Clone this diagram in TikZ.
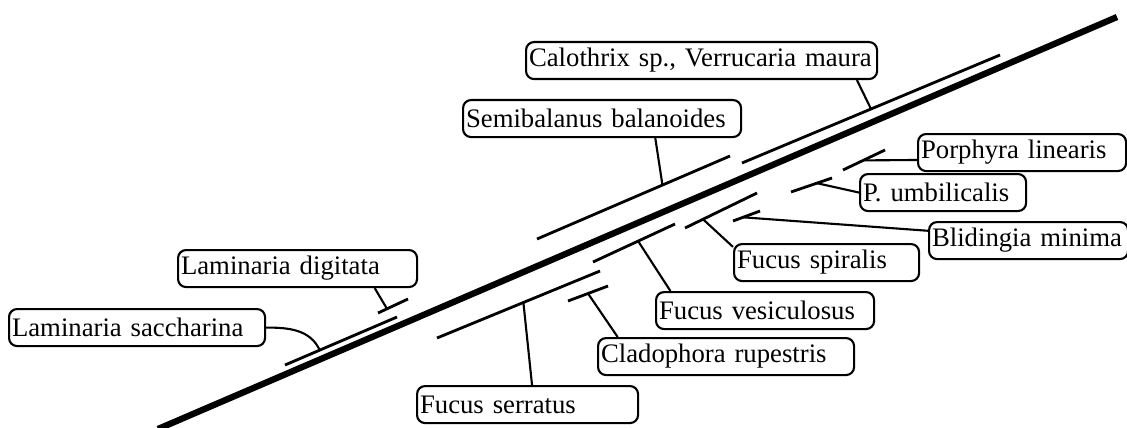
\documentclass[tikz,border=0pt]{standalone}
\usepackage{fontspec}
\setmainfont{Liberation Serif}
\usetikzlibrary{calc, positioning}

\begin{document}
\begin{tikzpicture}[
    tag/.style={draw, rounded corners=0.08cm, line width=0.6pt, inner xsep=0.03cm, inner ysep=0pt,
                minimum height=0.37cm, align=left, anchor=north west,
                font=\fontsize{7.6}{9}\selectfont, text width=#1},
    zone/.style={line width=0.8pt},
    lead/.style={line width=0.6pt}
]

    \useasboundingbox (0,0) rectangle (11.27,4.27);

    % =================================================================
    % 1. MAIN SHORE LINE
    % =================================================================
    \coordinate (Low) at (1.58,-0.02);
    \coordinate (High) at (11.17,4.10);
    \draw[line width=1.8pt] (Low) -- (High);

    % =================================================================
    % 2. END POINTS OF THE ZONES
    % =================================================================
    % Above the shore line
    \coordinate (sa1) at (2.85,0.62);  \coordinate (sa2) at (3.97,1.10);
    \coordinate (dg1) at (3.78,1.14);  \coordinate (dg2) at (4.08,1.28);
    \coordinate (se1) at (5.37,1.88);  \coordinate (se2) at (7.30,2.71);
    \coordinate (ca1) at (7.42,2.64);  \coordinate (ca2) at (10.00,3.72);

    % Below the shore line
    \coordinate (fs1) at (4.37,0.89);  \coordinate (fs2) at (6.00,1.56);
    \coordinate (fv1) at (5.93,1.65);  \coordinate (fv2) at (6.75,2.03);
    \coordinate (cr1) at (5.68,1.26);  \coordinate (cr2) at (6.08,1.41);
    \coordinate (sp1) at (6.85,1.99);  \coordinate (sp2) at (7.57,2.34);
    \coordinate (bm1) at (7.33,2.06);  \coordinate (bm2) at (7.60,2.16);
    \coordinate (pu1) at (7.91,2.35);  \coordinate (pu2) at (8.32,2.49);
    \coordinate (pl1) at (8.43,2.57);  \coordinate (pl2) at (8.85,2.77);

    \foreach \z in {sa,dg,se,ca,fs,fv,cr,sp,bm,pu,pl}
        \draw[zone] (\z1) -- (\z2);

    % =================================================================
    % 3. LABELS
    % =================================================================
    \node[tag=2.50cm] (sacch) at (0.08,1.19) {Laminaria saccharina};
    \node[tag=2.33cm] (digit) at (1.77,1.78) {Laminaria digitata};
    \node[tag=3.45cm] (calo)  at (5.25,3.86) {Calothrix sp., Verrucaria maura};
    \node[tag=2.72cm] (semi)  at (4.62,3.28) {Semibalanus balanoides};
    \node[tag=2.02cm] (porph) at (9.17,2.94) {Porphyra linearis};
    \node[tag=1.60cm] (umbil) at (8.59,2.54) {P. umbilicalis};
    \node[tag=1.93cm] (blid)  at (9.28,2.06) {Blidingia minima};
    \node[tag=1.79cm] (spir)  at (7.33,1.84) {Fucus spiralis};
    \node[tag=2.12cm] (vesic) at (6.55,1.36) {Fucus vesiculosus};
    \node[tag=2.50cm] (clado) at (5.97,0.90) {Cladophora rupestris};
    \node[tag=2.15cm] (serr)  at (4.16,0.42) {Fucus serratus};

    % =================================================================
    % 4. LEADER LINES
    % =================================================================
    \draw[lead] (sacch.east) to[out=0, in=115] ($(sa1)!0.31!(sa2)$);
    \draw[lead] ($(digit.south west)!0.82!(digit.south east)$) -- ($(dg1)!0.3!(dg2)$);
    \draw[lead] ($(semi.south west)!0.69!(semi.south east)$) -- ($(se1)!0.65!(se2)$);
    \draw[lead] ($(calo.south west)!0.94!(calo.south east)$) -- ($(ca1)!0.5!(ca2)$);
    \draw[lead] ($(serr.north west)!0.52!(serr.north east)$) -- ($(fs1)!0.53!(fs2)$);
    \draw[lead] ($(vesic.north west)!0.07!(vesic.north east)$) -- ($(fv1)!0.55!(fv2)$);
    \draw[lead] ($(clado.north west)!0.08!(clado.north east)$) -- ($(cr1)!0.5!(cr2)$);
    \draw[lead] ($(spir.north west)!0.1!(spir.south west)$) -- ($(sp1)!0.25!(sp2)$);
    \draw[lead] ($(blid.north west)!0.25!(blid.south west)$) -- ($(bm1)!0.37!(bm2)$);
    \draw[lead] (umbil.west) -- ($(pu1)!0.63!(pu2)$);
    \draw[lead] ($(porph.north west)!0.69!(porph.south west)$) -- ($(pl1)!0.48!(pl2)$);

\end{tikzpicture}
\end{document}
